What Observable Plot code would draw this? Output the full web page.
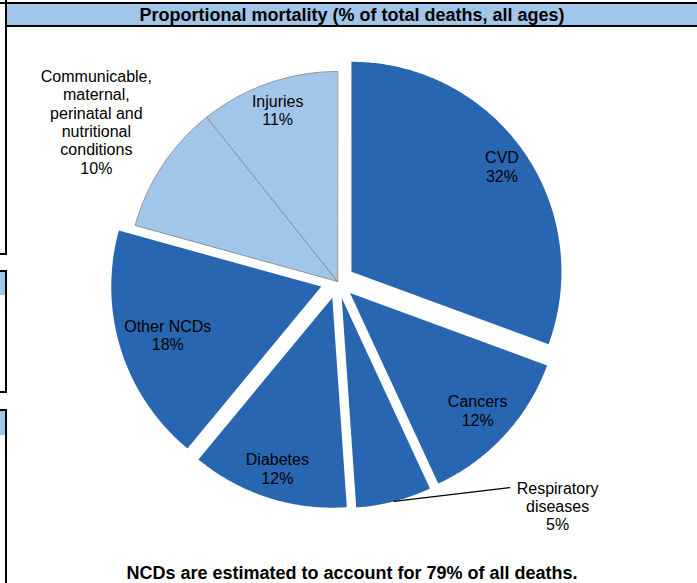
<!DOCTYPE html>
<html>
<head>
<meta charset="utf-8">
<script src="https://cdn.jsdelivr.net/npm/d3@7"></script>
<script src="https://cdn.jsdelivr.net/npm/@observablehq/plot@0.6"></script>
<style>
  html, body { margin: 0; padding: 0; background: #fff; overflow: hidden; }
  #wrap { position: relative; width: 697px; height: 583px; overflow: hidden;
          font-family: "Liberation Sans", Arial, sans-serif; color: #000; }
  .blk { position: absolute; background: #000; }
  .blue { position: absolute; background: #a2c6e9; }
  #title { position: absolute; left: 7px; top: 4px; width: 690px; height: 22px; line-height: 23px;
           text-align: center; font-weight: bold; font-size: 18px; }
  #foot { position: absolute; left: 7px; top: 562px; width: 690px; height: 22px; line-height: 22px;
          text-align: center; font-weight: bold; font-size: 18px; }
  #chart { position: absolute; left: 0; top: 0; }
</style>
</head>
<body>
<div id="wrap">
  <!-- panel frame pieces -->
  <div class="blk" style="left:0;top:2px;width:697px;height:2px"></div>
  <div class="blue" style="left:7px;top:4px;width:690px;height:21px"></div>
  <div class="blk" style="left:5px;top:25px;width:692px;height:2px"></div>
  <div class="blk" style="left:5px;top:0;width:2px;height:255px"></div>
  <div class="blk" style="left:0;top:253px;width:7px;height:2px"></div>
  <div class="blk" style="left:0;top:270px;width:7px;height:2px"></div>
  <div class="blue" style="left:0;top:272px;width:5px;height:23px"></div>
  <div class="blk" style="left:5px;top:270px;width:2px;height:123px"></div>
  <div class="blk" style="left:0;top:391px;width:7px;height:2px"></div>
  <div class="blk" style="left:0;top:409px;width:7px;height:2px"></div>
  <div class="blue" style="left:0;top:411px;width:5px;height:24px"></div>
  <div class="blk" style="left:5px;top:409px;width:2px;height:174px"></div>
  <div id="title">Proportional mortality (% of total deaths, all ages)</div>
  <div id="chart"></div>
  <div id="foot">NCDs are estimated to account for 79% of all deaths.</div>
</div>
<script>
// ---------------- data ----------------
const categories = ["CVD", "Cancers", "Respiratory diseases", "Diabetes", "Other NCDs",
  "Communicable, maternal, perinatal and nutritional conditions", "Injuries"];
const shares = [30.6, 12.5, 5.8, 12.1, 18.3, 10.0, 10.7];          // slice sizes as drawn
const percentLabels = ["32%", "12%", "5%", "12%", "18%", "10%", "11%"];
const labelNames = ["CVD", "Cancers", "Respiratory\ndiseases", "Diabetes", "Other NCDs",
  "Communicable,\nmaternal,\nperinatal and\nnutritional\nconditions", "Injuries"];
const groups = ["NCD", "NCD", "NCD", "NCD", "NCD", "Other", "Other"];

// ---------------- layout ----------------
const R = 210, cx = 337, cy = 281;
const DARK = "#2966b1", LIGHT = "#a2c6e9";
const explode = 17 / R;
const fontSize = 16, lineH = 18.3;
const outsideLabels = new Set(["Communicable, maternal, perinatal and nutritional conditions"]);
const calloutLabels = new Set(["Respiratory diseases"]);
const calloutAt = {x: 1.048, y: -1.069}; // in radius units, relative to pie centre

const table = categories.map((c, i) => ({
  cat: c, share: shares[i], pct: percentLabels[i], name: labelNames[i], group: groups[i]
}));

const arcs = d3.pie().sort(null).value(d => d.share).startAngle(0).endAngle(2 * Math.PI)(table);

const slicePts = [];
const labels = [];
const leader = [];
const ctx = document.createElement("canvas").getContext("2d");
ctx.font = `${fontSize}px "Liberation Sans"`;

for (const a of arcs) {
  const d = a.data;
  const mid = (a.startAngle + a.endAngle) / 2;
  const ux = Math.sin(mid), uy = Math.cos(mid);
  const off = d.group === "NCD" ? explode : 0;
  const ox = off * ux, oy = off * uy;
  slicePts.push({cat: d.cat, group: d.group, x: ox, y: oy});
  const n = Math.max(2, Math.ceil((a.endAngle - a.startAngle) / (Math.PI / 360)));
  for (let k = 0; k <= n; k++) {
    const t = a.startAngle + (a.endAngle - a.startAngle) * k / n;
    slicePts.push({cat: d.cat, group: d.group, x: ox + Math.sin(t), y: oy + Math.cos(t)});
  }
  // label box
  const text = d.name + "\n" + d.pct;
  const lines = text.split("\n");
  const w = Math.max(...lines.map(l => ctx.measureText(l).width));
  const hw = w / 2 / R, hh = lines.length * lineH / 2 / R;
  let lx, ly;
  if (calloutLabels.has(d.cat)) {
    lx = calloutAt.x; ly = calloutAt.y;
    const firstW = ctx.measureText(lines[0]).width;
    const topLineY = ly + (lines.length - 1) * lineH / 2 / R;
    leader.push({x: ox + ux * 1.0, y: oy + uy * 1.0});
    leader.push({x: lx - (firstW / 2 + 7) / R, y: topLineY});
  } else if (outsideLabels.has(d.cat)) {
    const limit = 1 + 3 / R;
    let lo = 1, hi = 3;
    for (let it = 0; it < 50; it++) {
      const r = (lo + hi) / 2;
      const fx = Math.max(0, Math.abs(r * ux) - hw), fy = Math.max(0, Math.abs(r * uy) - hh);
      if (Math.hypot(fx, fy) >= limit) hi = r; else lo = r;
    }
    lx = ox + hi * ux; ly = oy + hi * uy;
  } else {
    const limit = 1 - 2 / R;
    let lo = 0, hi = 1;
    for (let it = 0; it < 50; it++) {
      const r = (lo + hi) / 2;
      const fx = Math.abs(r * ux) + hw, fy = Math.abs(r * uy) + hh;
      if (Math.hypot(fx, fy) <= limit) lo = r; else hi = r;
    }
    lx = ox + lo * ux; ly = oy + lo * uy;
  }
  labels.push({x: lx, y: ly, text});
}

const chart = Plot.plot({
  width: 697, height: 583, margin: 0,
  x: {domain: [-1, 1], range: [cx - R, cx + R], axis: null},
  y: {domain: [-1, 1], range: [cy + R, cy - R], axis: null},
  style: {background: "transparent", fontFamily: '"Liberation Sans", Arial, sans-serif'},
  marks: [
    Plot.line(slicePts.filter(d => d.group === "NCD"),
      {x: "x", y: "y", z: "cat", fill: DARK, stroke: "none", curve: "linear-closed"}),
    Plot.line(slicePts.filter(d => d.group !== "NCD"),
      {x: "x", y: "y", z: "cat", fill: LIGHT, stroke: "#7a7a7a", strokeWidth: 0.75, curve: "linear-closed"}),
    Plot.line(leader, {x: "x", y: "y", stroke: "#000", strokeWidth: 1.2}),
    Plot.text(labels, {x: "x", y: "y", text: "text", fontSize, lineHeight: lineH / fontSize,
      fill: "#000", textAnchor: "middle", lineAnchor: "middle"})
  ]
});
document.getElementById("chart").appendChild(chart);
</script>
</body>
</html>
